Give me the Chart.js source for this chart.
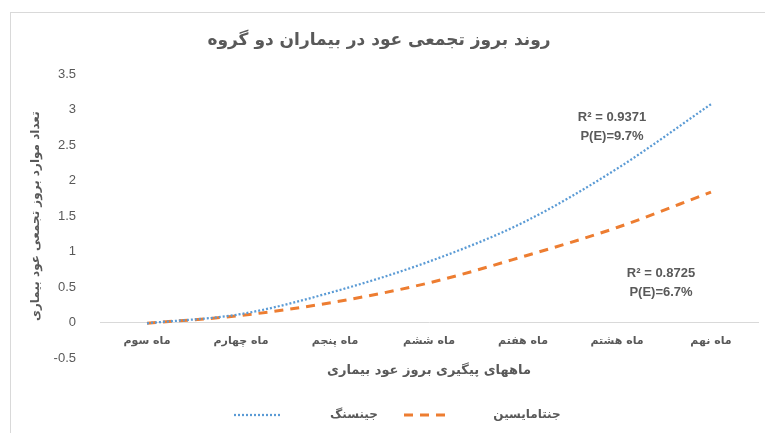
<!DOCTYPE html>
<html>
<head>
<meta charset="utf-8">
<script src="https://cdn.jsdelivr.net/npm/chart.js@4"></script>
<style>
  html, body { margin: 0; padding: 0; background: #fff; }
  #wrap { width: 765px; height: 433px; }
</style>
</head>
<body>
<div id="wrap"><canvas id="chart" width="765" height="433"></canvas></div>
<script>
// chart data
const months = ["ماه سوم", "ماه چهارم", "ماه پنجم", "ماه ششم", "ماه هفتم", "ماه هشتم", "ماه نهم"];
const ginseng = [-0.01, 0.12, 0.44, 0.86, 1.41, 2.17, 3.08];
const gentamicin = [-0.01, 0.10, 0.29, 0.56, 0.93, 1.34, 1.84];
const seriesNames = ["جینسنگ", "جنتامایسین"];
const fitNotes = [["R² = 0.9371", "P(E)=9.7%"], ["R² = 0.8725", "P(E)=6.7%"]];

const gray = "#595959";
const arabicFont = "'DejaVu Sans', 'Noto Sans', sans-serif";
const numFont = "'Liberation Sans Narrow', 'Liberation Sans', Arial, sans-serif";

// frame, fit notes and legend
const extras = {
  id: "extras",
  beforeDraw(chart) {
    const ctx = chart.ctx;
    ctx.save();
    ctx.strokeStyle = "#d9d9d9";
    ctx.lineWidth = 1;
    ctx.strokeRect(10.5, 12.5, 900, 600);
    ctx.restore();
  },
  afterDraw(chart) {
    const ctx = chart.ctx;
    const x = chart.scales.x, y = chart.scales.y;
    ctx.save();
    ctx.fillStyle = gray;
    ctx.font = "bold 13px " + numFont;
    ctx.textAlign = "center";
    ctx.textBaseline = "middle";
    // notes next to each trend line
    const p1x = x.getPixelForValue(5) - 5, p1y = y.getPixelForValue(2.9);
    ctx.fillText(fitNotes[0][0], p1x, p1y);
    ctx.fillText(fitNotes[0][1], p1x, p1y + 19);
    const p2x = x.getPixelForValue(5.5) - 3, p2y = y.getPixelForValue(0.69);
    ctx.fillText(fitNotes[1][0], p2x, p2y);
    ctx.fillText(fitNotes[1][1], p2x, p2y + 19);

    // legend
    const ly = 415;
    ctx.lineWidth = 2.25;
    ctx.strokeStyle = "#5B9BD5";
    ctx.setLineDash([2, 2]);
    ctx.beginPath(); ctx.moveTo(234, ly); ctx.lineTo(280, ly); ctx.stroke();
    ctx.lineWidth = 3;
    ctx.strokeStyle = "#ED7D31";
    ctx.setLineDash([9, 7]);
    ctx.beginPath(); ctx.moveTo(404, ly); ctx.lineTo(451, ly); ctx.stroke();
    ctx.setLineDash([]);
    ctx.font = "bold 12px " + arabicFont;
    ctx.fillText(seriesNames[0], 354, ly);
    ctx.fillText(seriesNames[1], 527, ly);
    ctx.restore();
  }
};

new Chart(document.getElementById("chart"), {
  type: "line",
  data: {
    labels: months,
    datasets: [
      {
        label: seriesNames[0],
        data: ginseng,
        borderColor: "#5B9BD5",
        borderWidth: 2.25,
        borderDash: [2, 2],
        pointRadius: 0,
        cubicInterpolationMode: "monotone",
        fill: false
      },
      {
        label: seriesNames[1],
        data: gentamicin,
        borderColor: "#ED7D31",
        borderWidth: 3,
        borderDash: [9, 7],
        pointRadius: 0,
        cubicInterpolationMode: "monotone",
        fill: false
      }
    ]
  },
  options: {
    responsive: false,
    animation: false,
    layout: { padding: { left: 0, right: 7, top: 0, bottom: 75 } },
    plugins: {
      legend: { display: false },
      tooltip: { enabled: false },
      title: {
        display: true,
        text: "روند بروز تجمعی عود در بیماران دو گروه",
        color: gray,
        font: { family: arabicFont, size: 17, weight: "bold" },
        padding: { top: 30, bottom: 24 }
      }
    },
    scales: {
      x: {
        position: { y: 0 },
        offset: true,
        grid: { display: false },
        border: { display: true, color: "#d9d9d9", width: 1 },
        afterFit(scale) { scale.height = 60; },
        ticks: {
          color: gray,
          padding: 4,
          maxRotation: 0,
          font: { family: arabicFont, size: 11, weight: "bold" }
        },
        title: {
          display: true,
          text: "ماههای پیگیری بروز عود بیماری",
          color: gray,
          font: { family: arabicFont, size: 13, weight: "bold" },
          padding: { top: 16, bottom: 4 }
        }
      },
      y: {
        min: -0.5,
        max: 3.5,
        grid: { display: false },
        border: { display: false },
        afterFit(scale) { scale.width = 100; },
        ticks: {
          stepSize: 0.5,
          color: gray,
          padding: 16,
          font: { family: numFont, size: 13 },
          callback: (v) => String(Math.round(v * 10) / 10)
        },
        title: {
          display: true,
          text: "تعداد موارد بروز تجمعی عود بیماری",
          color: gray,
          font: { family: arabicFont, size: 12, weight: "bold" },
          padding: { top: 29, bottom: 0 }
        }
      }
    }
  },
  plugins: [extras]
});
</script>
</body>
</html>
